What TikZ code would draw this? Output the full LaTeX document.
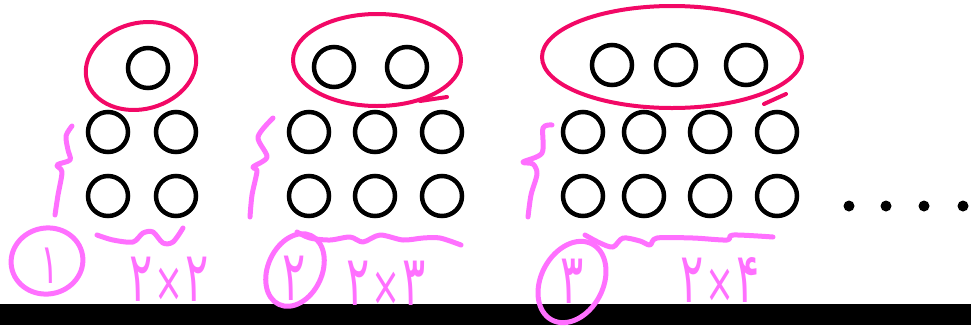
\documentclass[tikz,border=0pt]{standalone}
\usepackage{fontspec}
\newfontfamily\penfont[FakeStretch=0.62]{DejaVu Sans}
\definecolor{pencrimson}{RGB}{242,8,102}
\definecolor{penpink}{RGB}{255,112,255}
\newcommand{\penx}{\kern2pt{\fontsize{56}{56}\selectfont ×}\kern2pt}
\tikzset{
  ring/.style={circle, draw, line width=4.5pt, minimum size=40pt, inner sep=0pt},
  bigdot/.style={circle, fill, minimum size=11pt, inner sep=0pt},
  loopmark/.style={draw=pencrimson, line width=4pt, line cap=round},
  penmark/.style={draw=penpink, line width=5pt, line cap=round, line join=round},
  penlabel/.style={text=penpink, inner sep=0pt, font=\penfont\fontsize{70}{70}\selectfont}
}
\begin{document}
\begin{tikzpicture}[x=1pt,y=-1pt]
    \useasboundingbox (0,0) rectangle (971,325);
    \fill[black] (0,304) rectangle (971,325);
    \node[ring] (t1a) at (148,68) {};
    \foreach \x/\n in {334/a, 407/b} \node[ring] (t2\n) at (\x,67) {};
    \foreach \x/\n in {612/a, 676/b, 746/c} \node[ring] (t3\n) at (\x,65) {};
    \foreach \y/\row in {132/u, 196/l} {
      \foreach \x/\n in {108/a, 176/b} \node[ring] (g1\row\n) at (\x,\y) {};
      \foreach \x/\n in {309/a, 375/b, 442/c} \node[ring] (g2\row\n) at (\x,\y) {};
      \foreach \x/\n in {583/a, 644/b, 710/c, 777/d} \node[ring] (g3\row\n) at (\x,\y) {};
    }
    \foreach \x [count=\i] in {849, 886, 924, 963} \node[bigdot] (d\i) at (\x,206) {};
    \draw[loopmark, rotate around={15:(141,66)}] (141,66) ellipse [x radius=56, y radius=43];
    \draw[loopmark] (377,60) ellipse [x radius=84, y radius=46];
    \draw[loopmark] (420,101) -- (447,97);
    \draw[loopmark] (672,57) ellipse [x radius=130, y radius=51];
    \draw[loopmark] (764,104) -- (786,94);
    \draw[penmark] plot[smooth] coordinates {(72,126) (66,136) (68,150) (70,160) (57,165) (62,172) (58,195) (55,215)};
    \draw[penmark] plot[smooth] coordinates {(273,118) (258,137) (267,157) (253,167) (257,171) (252,195) (250,217)};
    \draw[penmark] plot[smooth] coordinates {(552,125) (543,128) (542,153) (523,162) (533,164) (537,174) (531,195) (528,217)};
    \draw[penmark] plot[smooth] coordinates {(97,235) (113,240) (133,242) (143,233) (153,232) (163,243) (173,242) (183,228)};
    \draw[penmark] plot[smooth] coordinates {(297,232) (310,238) (330,240) (350,237) (363,242) (380,235) (403,240) (423,238) (440,238) (461,245)};
    \draw[penmark] plot[smooth] coordinates {(585,235) (600,243) (613,247) (623,238) (640,241) (650,245) (657,238) (693,238) (727,240) (733,235) (773,237)};
    \node[penlabel, font=\penfont\fontsize{56}{56}\selectfont] (n1) at (50,266) {۱};
    \node[penlabel] (n2) at (294,278) {۲};
    \node[penlabel] (n3) at (572,281) {۳};
    \draw[penmark, rotate around={10:(47,261)}] (47,261) ellipse [x radius=36, y radius=33];
    \draw[penmark, rotate around={-25:(295,270)}] (295,270) ellipse [x radius=27, y radius=38];
    \draw[penmark, rotate around={-28:(572,282)}] (572,282) ellipse [x radius=31, y radius=43];
    \node[penlabel] (p1) at (169,279) {۲\penx۲};
    \node[penlabel] (p2) at (386,283) {۲\penx۳};
    \node[penlabel] (p3) at (720,280) {۲\penx۴};
\end{tikzpicture}
\end{document}
